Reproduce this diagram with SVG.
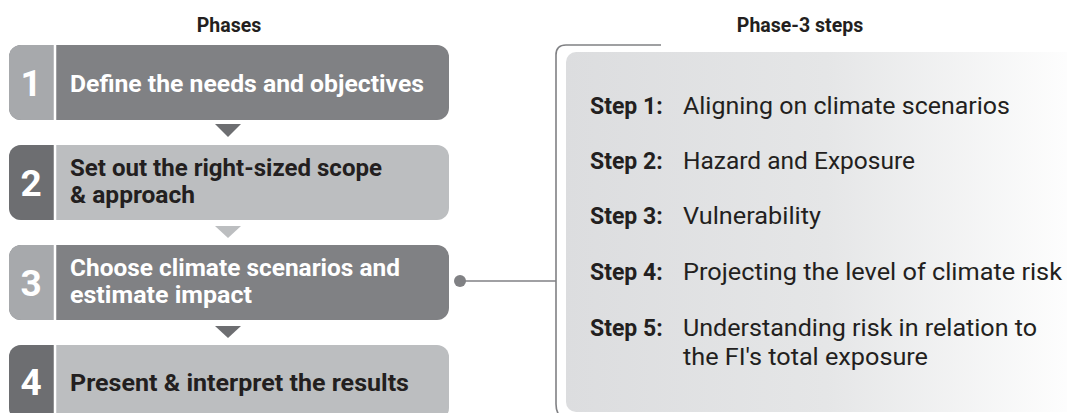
<svg xmlns="http://www.w3.org/2000/svg" width="1067" height="413" viewBox="0 0 1067 413">
  <style>
    .title { font-family: Roboto, "Liberation Sans", sans-serif; font-weight: bold; font-size: 19.5px; fill: #231f20; text-anchor: middle; }
    .num { font-family: Roboto, "Liberation Sans", sans-serif; font-weight: bold; font-size: 37px; fill: #ffffff; text-anchor: middle; }
    .ph { font-family: Roboto, "Liberation Sans", sans-serif; font-weight: bold; font-size: 24.5px; }
    .ph2 { font-family: Roboto, "Liberation Sans", sans-serif; font-weight: bold; font-size: 23px; }
    .light { fill: #ffffff; }
    .dark { fill: #231f20; }
    .dk-bg { fill: #808184; }
    .lt-bg { fill: #bcbec0; }
    .tab-lt { fill: #a7a9ac; }
    .tab-dk { fill: #6d6e71; }
    .sep { stroke: #ffffff; stroke-width: 2.5; }
    .stepk { font-family: Roboto, "Liberation Sans", sans-serif; font-weight: bold; font-size: 23px; fill: #231f20; }
    .stepv { font-family: Roboto, "Liberation Sans", sans-serif; font-size: 23px; fill: #231f20; }
    .conn { stroke: #808184; stroke-width: 1.6; fill: none; }
  </style>
  <defs>
    <linearGradient id="panelFill" x1="0" y1="0" x2="1" y2="0">
      <stop offset="0" stop-color="#dcdddf"/>
      <stop offset="0.5" stop-color="#e5e6e7"/>
      <stop offset="1" stop-color="#ffffff"/>
    </linearGradient>
    <clipPath id="clipBox1"><rect x="9" y="45" width="440" height="75" rx="12"/></clipPath>
    <clipPath id="clipBox2"><rect x="9" y="145" width="440" height="75" rx="12"/></clipPath>
    <clipPath id="clipBox3"><rect x="9" y="245" width="440" height="75" rx="12"/></clipPath>
    <clipPath id="clipBox4"><rect x="9" y="345" width="440" height="75" rx="12"/></clipPath>
  </defs>

  <rect width="1067" height="413" fill="#ffffff"/>

  <text class="title" x="229" y="32">Phases</text>
  <text class="title" x="800" y="32">Phase-3 steps</text>

  <!-- Phase 1 -->
  <g id="phase1">
    <g clip-path="url(#clipBox1)">
      <rect class="dk-bg" x="9" y="45" width="440" height="75"/>
      <rect class="tab-lt" x="9" y="45" width="46" height="75"/>
      <line class="sep" x1="55" y1="45" x2="55" y2="120"/>
    </g>
    <text class="num" x="31" y="96">1</text>
    <text class="ph light" x="70" y="92" textLength="354" lengthAdjust="spacingAndGlyphs">Define the needs and objectives</text>
  </g>

  <!-- Phase 2 -->
  <g id="phase2">
    <g clip-path="url(#clipBox2)">
      <rect class="lt-bg" x="9" y="145" width="440" height="75"/>
      <rect class="tab-dk" x="9" y="145" width="46" height="75"/>
      <line class="sep" x1="55" y1="145" x2="55" y2="220"/>
    </g>
    <text class="num" x="31" y="196">2</text>
    <text class="ph2 dark" x="70" y="176" textLength="312" lengthAdjust="spacingAndGlyphs">Set out the right-sized scope</text>
    <text class="ph2 dark" x="70" y="203" textLength="125" lengthAdjust="spacingAndGlyphs">&amp; approach</text>
  </g>

  <!-- Phase 3 -->
  <g id="phase3">
    <g clip-path="url(#clipBox3)">
      <rect class="dk-bg" x="9" y="245" width="440" height="75"/>
      <rect class="tab-lt" x="9" y="245" width="46" height="75"/>
      <line class="sep" x1="55" y1="245" x2="55" y2="320"/>
    </g>
    <text class="num" x="31" y="296">3</text>
    <text class="ph2 light" x="70" y="276" textLength="330" lengthAdjust="spacingAndGlyphs">Choose climate scenarios and</text>
    <text class="ph2 light" x="70" y="303" textLength="182" lengthAdjust="spacingAndGlyphs">estimate impact</text>
  </g>

  <!-- Phase 4 -->
  <g id="phase4">
    <g clip-path="url(#clipBox4)">
      <rect class="lt-bg" x="9" y="345" width="440" height="75"/>
      <rect class="tab-dk" x="9" y="345" width="46" height="75"/>
      <line class="sep" x1="55" y1="345" x2="55" y2="420"/>
    </g>
    <text class="num" x="31" y="395">4</text>
    <text class="ph dark" x="70" y="391" textLength="339" lengthAdjust="spacingAndGlyphs">Present &amp; interpret the results</text>
  </g>

  <!-- Phase-3 steps panel -->
  <g id="steps">
    <rect x="566" y="52" width="520" height="360" rx="10" fill="url(#panelFill)"/>
    <text class="stepk" x="590" y="114">Step 1:</text>
    <text class="stepv" x="683" y="114" textLength="327" lengthAdjust="spacingAndGlyphs">Aligning on climate scenarios</text>
    <text class="stepk" x="590" y="169">Step 2:</text>
    <text class="stepv" x="683" y="169" textLength="232" lengthAdjust="spacingAndGlyphs">Hazard and Exposure</text>
    <text class="stepk" x="590" y="224">Step 3:</text>
    <text class="stepv" x="683" y="224" textLength="138" lengthAdjust="spacingAndGlyphs">Vulnerability</text>
    <text class="stepk" x="590" y="280">Step 4:</text>
    <text class="stepv" x="683" y="280" textLength="379" lengthAdjust="spacingAndGlyphs">Projecting the level of climate risk</text>
    <text class="stepk" x="590" y="336">Step 5:</text>
    <text class="stepv" x="683" y="336" textLength="354" lengthAdjust="spacingAndGlyphs">Understanding risk in relation to</text>
    <text class="stepv" x="683" y="365" textLength="245" lengthAdjust="spacingAndGlyphs">the FI's total exposure</text>
  </g>

  <!-- Connectors -->
  <g id="connectors">
    <polygon points="215,124 241,124 228,137" fill="#6d6e71"/>
    <polygon points="215,226 241,226 228,238" fill="#bcbec0"/>
    <polygon points="215,326 241,326 228,338" fill="#6d6e71"/>
    <circle cx="460" cy="281" r="6" fill="#808184"/>
    <line class="conn" x1="460" y1="281" x2="556" y2="281"/>
    <path class="conn" d="M661,45 H566 Q556,45 556,55 V404 Q556,412 560,416"/>
  </g>
</svg>
